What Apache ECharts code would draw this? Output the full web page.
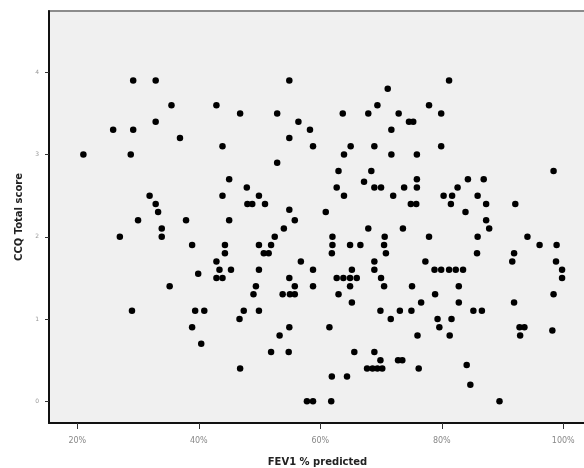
<!DOCTYPE html>
<html>
<head>
<meta charset="utf-8">
<script src="https://cdn.jsdelivr.net/npm/echarts@6/dist/echarts.min.js"></script>
<style>
html,body{margin:0;padding:0;background:#fff;}
#chart{width:584px;height:468px;}
</style>
</head>
<body>
<div id="chart"></div>
<script>
// FEV1 % predicted (x) and CCQ Total score (y), paired by index
const fev = [
  29.2,32.9,35.5,32.9,25.9,29.2,36.9,21.0,28.8,31.9,32.9,33.3,30.0,37.9,33.9,27.0,33.9,
  54.9,42.9,46.8,52.9,56.4,58.3,54.9,43.9,58.8,52.9,45.0,47.9,43.9,49.9,48.0,48.8,50.9,54.9,45.0,55.8,54.0,52.5,
  81.2,71.1,69.4,77.9,63.7,67.9,72.9,79.9,74.6,75.3,71.7,65.0,68.9,79.9,63.9,71.7,75.9,63.0,68.4,75.9,67.2,
  62.7,68.9,70.0,73.8,75.9,82.6,63.9,72.0,80.3,81.7,74.9,75.8,81.5,60.9,67.9,73.6,62.0,70.6,77.9,
  98.4,84.3,86.9,85.9,87.3,92.1,83.9,87.3,87.8,85.9,94.1,
  35.2,29.0,38.9,44.3,49.9,51.9,44.3,50.7,51.5,42.9,56.8,39.9,43.4,45.3,49.9,58.8,42.9,43.9,54.9,
  49.4,55.8,58.8,49.0,53.8,55.0,55.8,39.4,40.9,47.4,49.9,46.7,38.9,54.9,53.3,40.4,51.9,54.8,46.8,57.8,58.8,
  62.0,64.9,66.6,70.5,61.9,70.8,68.9,77.3,65.2,68.9,78.8,79.9,81.2,82.3,83.5,62.7,63.8,64.9,66.0,70.0,
  64.9,70.5,75.1,63.0,78.9,65.2,76.6,69.9,73.1,75.0,71.6,79.3,81.6,61.5,79.6,76.0,81.3,65.6,68.9,69.9,
  72.8,73.5,67.7,68.6,69.4,70.2,76.2,61.9,64.4,61.8,
  96.1,98.9,85.8,91.9,91.6,98.8,99.8,99.8,82.8,98.4,82.8,91.9,85.2,86.6,92.8,93.6,92.9,98.2,84.1,84.7,89.5
];
const ccq = [
  3.9,3.9,3.6,3.4,3.3,3.3,3.2,3.0,3.0,2.5,2.4,2.3,2.2,2.2,2.1,2.0,2.0,
  3.9,3.6,3.5,3.5,3.4,3.3,3.2,3.1,3.1,2.9,2.7,2.6,2.5,2.5,2.4,2.4,2.4,2.33,2.2,2.2,2.1,2.0,
  3.9,3.8,3.6,3.6,3.5,3.5,3.5,3.5,3.4,3.4,3.3,3.1,3.1,3.1,3.0,3.0,3.0,2.8,2.8,2.7,2.67,
  2.6,2.6,2.6,2.6,2.6,2.6,2.5,2.5,2.5,2.5,2.4,2.4,2.4,2.3,2.1,2.1,2.0,2.0,2.0,
  2.8,2.7,2.7,2.5,2.4,2.4,2.3,2.2,2.1,2.0,2.0,
  1.4,1.1,1.9,1.9,1.9,1.9,1.8,1.8,1.8,1.7,1.7,1.55,1.6,1.6,1.6,1.6,1.5,1.5,1.5,
  1.4,1.4,1.4,1.3,1.3,1.3,1.3,1.1,1.1,1.1,1.1,1.0,0.9,0.9,0.8,0.7,0.6,0.6,0.4,0.0,0.0,
  1.9,1.9,1.9,1.9,1.8,1.8,1.7,1.7,1.6,1.6,1.6,1.6,1.6,1.6,1.6,1.5,1.5,1.5,1.5,1.5,
  1.4,1.4,1.4,1.3,1.3,1.2,1.2,1.1,1.1,1.1,1.0,1.0,1.0,0.9,0.9,0.8,0.8,0.6,0.6,0.5,
  0.5,0.5,0.4,0.4,0.4,0.4,0.4,0.3,0.3,0.0,
  1.9,1.9,1.8,1.8,1.7,1.7,1.6,1.5,1.4,1.3,1.2,1.2,1.1,1.1,0.9,0.9,0.8,0.86,0.44,0.2,0.0
];
const xTicks = [20, 40, 60, 80, 100];
const yTicks = [0, 1, 2, 3, 4];
const xTitle = 'FEV1 % predicted';
const yTitle = 'CCQ Total score';

const points = fev.map((x, i) => [x, ccq[i]]);

const chart = echarts.init(document.getElementById('chart'), null, {renderer: 'canvas'});
chart.setOption({
  animation: false,
  backgroundColor: '#ffffff',
  grid: {
    left: 49, top: 11, right: -2, bottom: 45,
    containLabel: false, outerBoundsMode: 'none',
    show: true, backgroundColor: '#f0f0f0',
    borderColor: '#8c8c8c', borderWidth: 2
  },
  xAxis: {
    type: 'value', min: 15.34, max: 103.74,
    name: xTitle, nameLocation: 'middle', nameGap: 34,
    nameTextStyle: {fontFamily: 'DejaVu Sans', fontWeight: 'bold', fontSize: 10, color: '#222'},
    axisLine: {onZero: false, lineStyle: {color: '#111', width: 2}},
    axisTick: {show: true, customValues: xTicks, length: 6, lineStyle: {color: '#333', width: 1}},
    axisLabel: {customValues: xTicks, formatter: v => v + '%', fontFamily: 'DejaVu Sans', fontSize: 8, color: '#888', margin: 14},
    splitLine: {show: false}
  },
  yAxis: {
    type: 'value', min: -0.264, max: 4.745,
    name: yTitle, nameLocation: 'middle', nameGap: 25, nameRotate: 90,
    nameTextStyle: {fontFamily: 'DejaVu Sans', fontWeight: 'bold', fontSize: 10, color: '#222'},
    axisLine: {onZero: false, lineStyle: {color: '#111', width: 2}},
    axisTick: {show: true, customValues: yTicks, length: 4, lineStyle: {color: '#333', width: 1}},
    axisLabel: {customValues: yTicks, fontFamily: 'DejaVu Sans', fontSize: 6, color: '#999', margin: 10},
    splitLine: {show: false}
  },
  series: [{
    type: 'scatter',
    data: points,
    symbol: 'circle',
    symbolSize: 6.5,
    itemStyle: {color: '#000', opacity: 1},
    silent: true
  }]
});
</script>
</body>
</html>
